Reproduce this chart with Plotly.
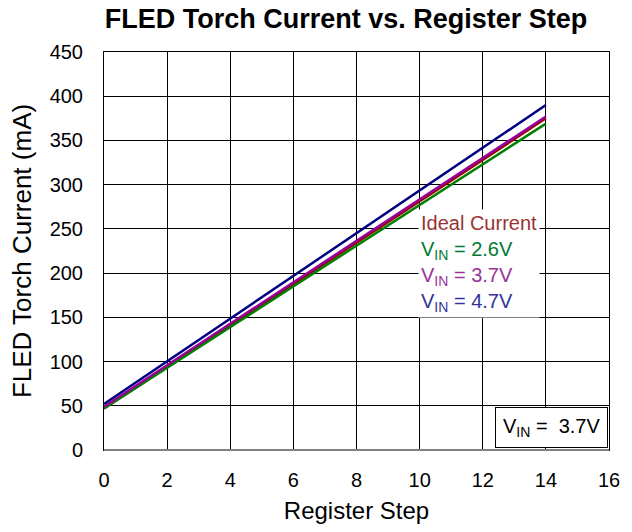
import plotly.graph_objects as go

# Register steps and measured torch current (mA)
steps = list(range(0, 15))
ideal_current = [46.875 + 23.4375 * s for s in steps]
vin_26_ends = [47.0, 369.0]
vin_37_ends = [49.0, 377.0]
vin_47_ends = [52.0, 390.0]
step_ends = [0, 14]

x_ticks = list(range(0, 17, 2))
y_ticks = list(range(0, 451, 50))

FONT = "Liberation Sans, Arial, sans-serif"

fig = go.Figure()
fig.add_trace(go.Scatter(x=steps, y=ideal_current, mode="lines",
                         line=dict(color="#990000", width=2.5), name="Ideal Current"))
fig.add_trace(go.Scatter(x=step_ends, y=vin_26_ends, mode="lines",
                         line=dict(color="#008000", width=2.5), name="VIN = 2.6V"))
fig.add_trace(go.Scatter(x=step_ends, y=vin_37_ends, mode="lines",
                         line=dict(color="#990099", width=2.5), name="VIN = 3.7V"))
fig.add_trace(go.Scatter(x=step_ends, y=vin_47_ends, mode="lines",
                         line=dict(color="#000080", width=2.5), name="VIN = 4.7V"))

# Hand-placed legend: coloured text on a white panel
legend_items = [
    ("Ideal Current", "#993333"),
    ("V<sub>IN</sub> = 2.6V", "#007a33"),
    ("V<sub>IN</sub> = 3.7V", "#993399"),
    ("V<sub>IN</sub> = 4.7V", "#333399"),
]
annotations = [dict(
    text="<br>".join(f'<span style="color:{c}">{t}</span>' for t, c in legend_items),
    x=(421 - 104) / 510, y=(451 - 209) / 399, xref="paper", yref="paper",
    xanchor="left", yanchor="top", align="left", showarrow=False,
    font=dict(family=FONT, size=20, color="black"),
    bgcolor="white", borderpad=2)]

annotations.append(dict(
    text="V<sub>IN</sub> =  3.7V", x=1.0 - 1 / 510, y=2 / 399, xref="paper", yref="paper",
    xanchor="right", yanchor="bottom", showarrow=False,
    font=dict(family=FONT, size=20, color="black"),
    bordercolor="black", borderwidth=1, borderpad=7, bgcolor="white"))

fig.update_layout(
    width=632, height=532,
    margin=dict(l=104, r=18, t=52, b=81),
    paper_bgcolor="white", plot_bgcolor="white",
    showlegend=False,
    title=dict(text="<b>FLED Torch Current vs. Register Step</b>",
               x=346 / 632, xanchor="center", y=1 - 19 / 532, yanchor="middle",
               font=dict(family=FONT, size=27, color="black")),
    annotations=annotations,
    shapes=[dict(type="line", xref="paper", yref="paper", x0=0, x1=1, y0=0, y1=0,
                 line=dict(color="#808080", width=2))],
    font=dict(family=FONT, size=20, color="black"),
)
fig.update_xaxes(
    range=[0, 16], tickvals=x_ticks, showgrid=True, gridcolor="black", gridwidth=1,
    showline=True, linecolor="black", linewidth=1, mirror=True, zeroline=False,
    ticks="", tickfont=dict(size=20), ticklabelstandoff=12,
    title=dict(text="Register Step", font=dict(size=24), standoff=12))
fig.update_yaxes(
    range=[0, 450], tickvals=y_ticks, showgrid=True, gridcolor="black", gridwidth=1,
    showline=True, linecolor="black", linewidth=1, mirror=True, zeroline=False,
    ticks="", tickfont=dict(size=20), ticklabelstandoff=16,
    title=dict(text="FLED Torch Current (mA)", font=dict(size=26), standoff=10))

fig.write_html("out.html")
